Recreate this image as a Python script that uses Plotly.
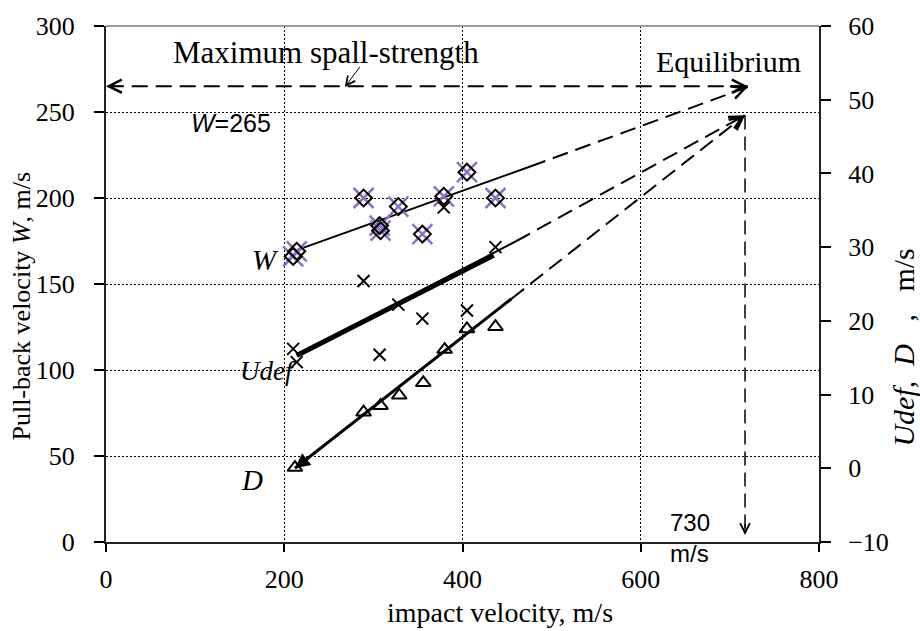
import plotly.graph_objects as go

# ---------------- data ----------------
w_x = [210, 214, 289, 307, 308, 328, 355, 379, 405, 437]
w_y = [166, 169, 200, 184, 181, 195, 179, 201, 215, 200]

udef_x = [210, 214, 289, 307, 328, 355, 379, 405, 437]
udef_y = [16.2, 14.4, 25.4, 15.4, 22.2, 20.3, 35.4, 21.4, 30.0]

d_x = [212, 289, 308, 329, 356, 380, 405, 437]
d_y = [0.1, 7.6, 8.5, 9.9, 11.6, 16.1, 18.9, 19.2]

# trend lines: [start, end of solid part, end of dashed extrapolation]
w_fit_x = [214, 476, 720]
w_fit_y = [169.7, 218.3, 264.5]
udef_thick_x = [214, 435]
udef_thick_y = [15.3, 28.9]
udef_fit_x = [214, 460, 717]
udef_fit_y = [15.3, 30.8, 47.9]
d_fit_x = [212, 455, 717]
d_fit_y = [0.0, 23.0, 47.9]

spall_x = [720, 0]
spall_y = [265, 265]
eq_vert_x = [717, 717]
eq_vert_y = [248, 4]

x_ticks = [0, 200, 400, 600, 800]
y_ticks = [0, 50, 100, 150, 200, 250, 300]
y2_ticks = [-10, 0, 10, 20, 30, 40, 50, 60]

SERIF = "Liberation Serif, Times New Roman, serif"
SANS = "Liberation Sans, Arial, sans-serif"
DASH = "16px,8px"
PURPLE = "#8C72BF"

fig = go.Figure()

# trend lines (left axis)
fig.add_trace(go.Scatter(x=w_fit_x[:2], y=w_fit_y[:2], mode="lines",
                         line=dict(color="black", width=2), showlegend=False))
fig.add_trace(go.Scatter(x=w_fit_x[1:], y=w_fit_y[1:], mode="lines",
                         line=dict(color="black", width=2, dash=DASH), showlegend=False))
fig.add_trace(go.Scatter(x=spall_x, y=spall_y, mode="lines",
                         line=dict(color="black", width=2, dash=DASH), showlegend=False))
fig.add_trace(go.Scatter(x=eq_vert_x, y=eq_vert_y, mode="lines",
                         line=dict(color="black", width=1.5, dash="14px,7px"), showlegend=False))

# trend lines (right axis)
fig.add_trace(go.Scatter(x=udef_thick_x, y=udef_thick_y, mode="lines", yaxis="y2",
                         line=dict(color="black", width=5), showlegend=False))
fig.add_trace(go.Scatter(x=udef_fit_x[:2], y=udef_fit_y[:2], mode="lines", yaxis="y2",
                         line=dict(color="black", width=2), showlegend=False))
fig.add_trace(go.Scatter(x=udef_fit_x[1:], y=udef_fit_y[1:], mode="lines", yaxis="y2",
                         line=dict(color="black", width=2, dash=DASH), showlegend=False))
fig.add_trace(go.Scatter(x=d_fit_x[:2], y=d_fit_y[:2], mode="lines", yaxis="y2",
                         line=dict(color="black", width=3), showlegend=False))
fig.add_trace(go.Scatter(x=d_fit_x[1:], y=d_fit_y[1:], mode="lines", yaxis="y2",
                         line=dict(color="black", width=2, dash=DASH), showlegend=False))

# markers
fig.add_trace(go.Scatter(x=w_x, y=w_y, mode="markers",
                         marker=dict(symbol="x-thin-open", size=20, color=PURPLE,
                                     line=dict(color=PURPLE, width=2.5)),
                         showlegend=False))
fig.add_trace(go.Scatter(x=w_x, y=w_y, mode="markers",
                         marker=dict(symbol="diamond-open", size=13, color="black",
                                     line=dict(color="black", width=2)),
                         showlegend=False))
fig.add_trace(go.Scatter(x=udef_x, y=udef_y, mode="markers", yaxis="y2",
                         marker=dict(symbol="x-thin-open", size=12, color="black",
                                     line=dict(color="black", width=2)),
                         showlegend=False))
fig.add_trace(go.Scatter(x=d_x, y=d_y, mode="markers", yaxis="y2",
                         marker=dict(symbol="triangle-up-open", size=13, color="black",
                                     line=dict(color="black", width=2)),
                         showlegend=False))

annotations = []


def arrow_head(xs, ys, yref="y", frac=0.03, head=5, size=1.6, width=1.6):
    x1, y1 = xs[-1], ys[-1]
    x0, y0 = xs[-2], ys[-2]
    annotations.append(dict(x=x1, y=y1, xref="x", yref=yref,
                            ax=x1 - frac * (x1 - x0), ay=y1 - frac * (y1 - y0),
                            axref="x", ayref=yref, text="", showarrow=True,
                            arrowhead=head, arrowsize=size, arrowwidth=width,
                            arrowcolor="black"))


arrow_head(spall_x, spall_y)
arrow_head(spall_x[::-1], spall_y[::-1])
arrow_head(w_fit_x, w_fit_y)
arrow_head(udef_fit_x, udef_fit_y, yref="y2")
arrow_head(d_fit_x, d_fit_y, yref="y2")
arrow_head(eq_vert_x, eq_vert_y, frac=0.03, width=1.2)
arrow_head(d_fit_x[:2][::-1], d_fit_y[:2][::-1], yref="y2", frac=0.07, head=2, size=1.0, width=3)

# pointer from label to the spall line
annotations.append(dict(x=268, y=264.5, xref="x", yref="y", ax=286, ay=277,
                        axref="x", ayref="y", text="", showarrow=True,
                        arrowhead=5, arrowsize=1.8, arrowwidth=1, arrowcolor="black"))

C = dict(xanchor="center", yanchor="middle", showarrow=False)
# texts
annotations += [
    dict(x=247, y=284.5, xref="x", yref="y", text="Maximum spall-strength",
         font=dict(family=SERIF, size=31, color="black"), **C),
    dict(x=699, y=279.5, xref="x", yref="y", text="Equilibrium",
         font=dict(family=SERIF, size=30, color="black"), **C),
    dict(x=140, y=243.5, xref="x", yref="y", text="<i>W</i>=265",
         font=dict(family=SANS, size=25, color="black"), **C),
    dict(x=179, y=164, xref="x", yref="y", text="<i>W</i>",
         font=dict(family=SERIF, size=29, color="black"), **C),
    dict(x=182, y=99.5, xref="x", yref="y", text="<i>Udef</i>",
         font=dict(family=SERIF, size=27, color="black"), **C),
    dict(x=164, y=36, xref="x", yref="y", text="<i>D</i>",
         font=dict(family=SERIF, size=29, color="black"), **C),
    dict(x=631, y=2.5, xref="x", yref="y", text="730<br>m/s", align="left",
         xanchor="left", yanchor="middle", showarrow=False,
         font=dict(family=SANS, size=24, color="black")),
    dict(x=0.553, y=-0.136, xref="paper", yref="paper", text="impact velocity, m/s",
         font=dict(family=SERIF, size=28, color="black"), **C),
    dict(x=-0.118, y=0.458, xref="paper", yref="paper", textangle=-90,
         text="Pull-back velocity <i>W</i>, m/s",
         font=dict(family=SERIF, size=26, color="black"), **C),
    dict(x=1.118, y=0.377, xref="paper", yref="paper", textangle=-90,
         text="<i>Udef,&nbsp;&nbsp;D</i>&nbsp;&nbsp;&nbsp;,&nbsp;&nbsp;&nbsp;m/s",
         font=dict(family=SERIF, size=30, color="black"), **C),
]

fig.update_layout(
    width=920, height=631,
    margin=dict(l=106, r=101, t=20, b=89),
    paper_bgcolor="white", plot_bgcolor="white",
    showlegend=False,
    annotations=annotations,
    xaxis=dict(range=[0, 800], tickvals=x_ticks, ticks="outside", ticklen=8,
               tickwidth=1.5, tickcolor="black",
               showline=True, linecolor="#222", linewidth=2,
               showgrid=True, gridcolor="black", gridwidth=1, griddash="2px,2px",
               zeroline=False, ticklabelstandoff=5,
               tickfont=dict(family=SERIF, size=26, color="black")),
    yaxis=dict(range=[0, 300], tickvals=y_ticks, ticks="outside", ticklen=10,
               tickwidth=1.5, tickcolor="black",
               showline=True, linecolor="#222", linewidth=2,
               showgrid=True, gridcolor="black", gridwidth=1, griddash="2px,2px",
               zeroline=False, ticklabelstandoff=14,
               tickfont=dict(family=SERIF, size=26, color="black")),
    yaxis2=dict(range=[-10, 60], tickvals=y2_ticks, overlaying="y", side="right",
                ticks="outside", ticklen=10, tickwidth=1.5, tickcolor="black",
                showline=True, linecolor="#222", linewidth=2,
                showgrid=False, zeroline=False, ticklabelstandoff=12,
                tickfont=dict(family=SERIF, size=26, color="black")),
    shapes=[dict(type="line", xref="paper", yref="paper", x0=0, x1=1, y0=1, y1=1,
                 line=dict(color="#999", width=2))],
)

fig.write_html("out.html")
